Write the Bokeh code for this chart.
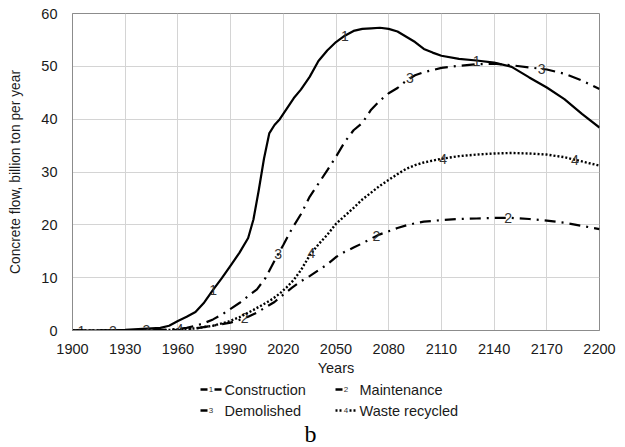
import numpy as np
from bokeh.plotting import figure
from bokeh.layouts import column
from bokeh.models import FixedTicker, ColumnDataSource, Range1d
from bokeh.core.properties import value
from bokeh.embed import file_html
from bokeh.resources import INLINE

# --- data: concrete flows, billion ton per year ---
construction_years = [1900, 1920, 1930, 1940, 1950, 1955, 1960, 1965, 1970, 1975, 1980, 1985,
                      1990, 1995, 2000, 2003, 2006, 2009, 2012, 2015, 2018, 2022, 2026, 2030,
                      2035, 2040, 2045, 2050, 2055, 2060, 2065, 2070, 2075, 2080, 2085, 2090,
                      2095, 2100, 2105, 2110, 2120, 2130, 2140, 2150, 2160, 2170, 2180, 2190, 2200]
construction = [0.0, 0.0, 0.1, 0.3, 0.5, 0.9, 1.8, 2.6, 3.5, 5.3, 7.7, 9.9,
                12.3, 14.7, 17.5, 21.0, 26.5, 32.5, 37.3, 38.9, 40.0, 42.0, 44.0, 45.6,
                48.0, 51.0, 53.0, 54.6, 55.8, 56.7, 57.1, 57.2, 57.3, 57.1, 56.6, 55.6,
                54.6, 53.3, 52.6, 52.0, 51.4, 51.1, 50.7, 49.9, 47.9, 46.0, 43.8, 41.0, 38.4]

maintenance_years = [1900, 1950, 1960, 1970, 1980, 1990, 1995, 2000, 2005, 2010, 2015, 2020,
                     2025, 2030, 2035, 2040, 2045, 2050, 2055, 2060, 2065, 2070, 2075, 2080,
                     2085, 2090, 2095, 2100, 2110, 2120, 2130, 2140, 2150, 2160, 2170, 2180,
                     2190, 2200]
maintenance = [0.0, 0.0, 0.1, 0.4, 0.9, 1.5, 2.0, 2.6, 3.4, 4.4, 5.4, 6.8,
               8.1, 9.3, 10.3, 11.4, 12.5, 13.9, 14.9, 15.7, 16.5, 17.4, 18.2, 18.8,
               19.4, 19.9, 20.3, 20.6, 20.9, 21.1, 21.2, 21.3, 21.3, 21.1, 20.8, 20.4,
               19.8, 19.2]

demolished_years = [1900, 1940, 1950, 1960, 1965, 1970, 1975, 1980, 1985, 1990, 1995, 2000,
                    2005, 2010, 2015, 2020, 2025, 2030, 2035, 2040, 2045, 2050, 2055, 2060,
                    2065, 2070, 2075, 2080, 2085, 2090, 2095, 2100, 2110, 2120, 2130, 2140,
                    2150, 2160, 2170, 2180, 2190, 2200]
demolished = [0.0, 0.0, 0.1, 0.3, 0.5, 0.9, 1.4, 2.1, 3.0, 4.1, 5.2, 6.5,
              7.8, 10.0, 13.2, 16.2, 19.3, 22.0, 25.3, 27.8, 30.3, 32.9, 35.7, 37.9,
              39.3, 41.8, 43.5, 44.9, 45.9, 47.3, 48.3, 48.9, 49.7, 50.1, 50.4, 50.5,
              50.2, 49.8, 49.4, 48.6, 47.3, 45.7]

recycled_years = [1900, 1950, 1960, 1970, 1980, 1988, 1995, 2003, 2010, 2014, 2018, 2022,
                  2026, 2030, 2035, 2040, 2045, 2050, 2055, 2060, 2065, 2070, 2075, 2080,
                  2085, 2090, 2095, 2100, 2110, 2120, 2130, 2140, 2150, 2160, 2170, 2180,
                  2190, 2200]
recycled = [0.0, 0.0, 0.2, 0.4, 0.9, 1.6, 2.5, 3.9, 5.2, 6.0, 7.0, 8.2,
            9.6, 11.4, 14.2, 16.3, 18.1, 20.2, 21.7, 23.2, 24.8, 26.1, 27.4, 28.5,
            29.6, 30.6, 31.3, 31.8, 32.5, 33.0, 33.3, 33.5, 33.6, 33.5, 33.3, 32.8,
            32.0, 31.2]

# years at which each curve carries its number tag
construction_tag_years = [1905, 1980, 2055, 2130]
maintenance_tag_years = [1923, 1998, 2073, 2148]
demolished_tag_years = [1942, 2017, 2092, 2167]
recycled_tag_years = [1961, 2036, 2111, 2186]

series_names = ["Construction", "Maintenance", "Demolished", "Waste recycled"]
series_tags = ["1", "2", "3", "4"]

x_ticks = [1900, 1930, 1960, 1990, 2020, 2050, 2080, 2110, 2140, 2170, 2200]
y_ticks = [0, 10, 20, 30, 40, 50, 60]

FONT = "Liberation Sans"
INK = "#1a1a1a"

p = figure(width=625, height=378, output_backend="svg", toolbar_location=None,
           x_range=Range1d(1900, 2200), y_range=Range1d(0, 60),
           min_border_left=72, min_border_right=26, min_border_top=13, min_border_bottom=44)

p.outline_line_color = "#8c8c8c"
p.outline_line_width = 1

# grid
p.xgrid.ticker = FixedTicker(ticks=x_ticks)
p.ygrid.ticker = FixedTicker(ticks=y_ticks)
p.grid.grid_line_color = "#d4d4d4"
p.grid.grid_line_width = 1

# axes
for ax in (p.xaxis[0], p.yaxis[0]):
    ax.axis_line_color = "#8c8c8c"
    ax.major_tick_line_color = None
    ax.minor_tick_line_color = None
    ax.major_label_text_font = FONT
    ax.major_label_text_font_size = "14.5px"
    ax.major_label_text_color = INK
    ax.axis_label_text_font = FONT
    ax.axis_label_text_font_size = "14.5px"
    ax.axis_label_text_font_style = "normal"
    ax.axis_label_text_color = INK

p.xaxis.ticker = FixedTicker(ticks=x_ticks)
p.yaxis.ticker = FixedTicker(ticks=y_ticks)
p.xaxis.axis_label = "Years"
p.xaxis.major_label_standoff = 7
p.xaxis.axis_label_standoff = 3
p.yaxis.axis_label = "Concrete flow, billion ton per year"
p.yaxis.axis_label_text_font_size = "13.8px"
p.yaxis.major_label_standoff = 9
p.yaxis.axis_label_standoff = 15

# series: (years, values, dash, width, tag years)
styles = {
    "Construction": (construction_years, construction, "solid", 2.2, construction_tag_years),
    "Maintenance": (maintenance_years, maintenance, "11 6 2 6", 2.2, maintenance_tag_years),
    "Demolished": (demolished_years, demolished, "13 6 2 6", 2.2, demolished_tag_years),
    "Waste recycled": (recycled_years, recycled, "2 2", 2.4, recycled_tag_years),
}

for name, tag in zip(series_names, series_tags):
    xs, ys, dash, lw, tag_years = styles[name]
    p.line(xs, ys, line_color="black", line_width=lw, line_dash=dash)
    tag_y = np.interp(tag_years, xs, ys)
    src = ColumnDataSource(dict(x=tag_years, y=tag_y, t=[tag] * len(tag_years)))
    p.text(x="x", y="y", text="t", source=src, text_align="center", text_baseline="middle",
           text_font=value(FONT), text_font_size="14px", text_color="#333333")

# legend strip underneath; the column aligns its frame with the chart frame
# (x 72..599 px of the page), so its ranges are set in page pixels, y pointing down
leg = figure(width=625, height=69, output_backend="svg", toolbar_location=None,
             x_range=Range1d(72, 599), y_range=Range1d(69, 0),
             x_axis_location=None, y_axis_location=None,
             min_border_left=72, min_border_right=26, min_border_top=0, min_border_bottom=0)
leg.grid.visible = False
leg.outline_line_color = None

# (glyph x, row y) for each entry
slots = {"Construction": (200, 11), "Maintenance": (335, 11),
         "Demolished": (200, 32), "Waste recycled": (335, 32)}
for name, tag in zip(series_names, series_tags):
    gx, gy = slots[name]
    if name == "Waste recycled":
        leg.segment(x0=[gx, gx + 14], y0=[gy, gy], x1=[gx + 7, gx + 22], y1=[gy, gy],
                    line_color="black", line_width=2.4, line_dash="2 2")
    elif name == "Construction":
        leg.segment(x0=[gx, gx + 14], y0=[gy, gy], x1=[gx + 7, gx + 21], y1=[gy, gy],
                    line_color="black", line_width=2.4)
    else:
        leg.segment(x0=[gx], y0=[gy], x1=[gx + 7], y1=[gy],
                    line_color="black", line_width=2.4)
    leg.text(x=[gx + 10.5], y=[gy], text=[tag], text_align="center", text_baseline="middle",
             text_font=value(FONT), text_font_size="8px", text_color="#333333")
    leg.text(x=[gx + 24], y=[gy], text=[name], text_align="left", text_baseline="middle",
             text_font=value(FONT), text_font_size="14.5px", text_color=INK)

leg.text(x=[310], y=[55], text=["b"], text_align="center", text_baseline="middle",
         text_font=value("Liberation Serif"), text_font_size="24px", text_color="black")

layout = column(p, leg, spacing=0)
open("out.html", "w").write(file_html(layout, INLINE))
